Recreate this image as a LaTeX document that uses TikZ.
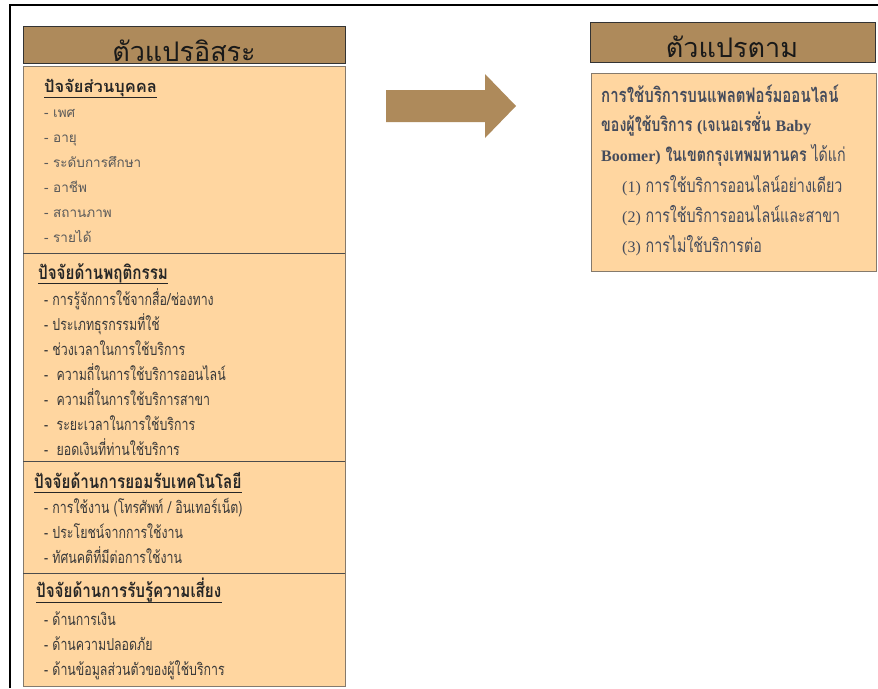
\documentclass[tikz,border=0pt]{standalone}
\usepackage{fontspec}
\setmainfont{Liberation Serif}
\newfontfamily\thaisans[Script=Thai]{Loma}
\newfontfamily\thaicond[Script=Thai,FakeStretch=0.75]{Loma}
\newfontfamily\thaihead[Script=Thai,FakeStretch=0.8]{Loma}
\definecolor{titlebrown}{HTML}{AE8A5B}
\definecolor{peach}{HTML}{FFD6A0}
\definecolor{boxedge}{HTML}{857A6C}
\definecolor{itemgray}{HTML}{5A5A5A}
\definecolor{itemdark}{HTML}{3A3A3A}
\definecolor{slate}{HTML}{454C5C}
\begin{document}
\begin{tikzpicture}[x=1pt,y=-1pt,
  titlebox/.style={draw=black!80,line width=0.8pt,fill=titlebrown,inner sep=0pt,anchor=north west},
  contentbox/.style={draw=boxedge,line width=0.9pt,fill=peach,inner sep=0pt,anchor=north west},
  titletext/.style={font=\thaisans\fontsize{27}{28}\selectfont,text=black!90,inner sep=0pt,anchor=base},
  headsans/.style={font=\thaisans\bfseries\fontsize{16.5}{17}\selectfont,text=black!85,inner sep=0pt,anchor=base west},
  headser/.style={font=\thaihead\bfseries\fontsize{19}{20}\selectfont,text=black!85,inner sep=0pt,anchor=base west},
  itemsans/.style={font=\thaisans\fontsize{13.5}{14}\selectfont,text=itemgray,inner sep=0pt,anchor=base west},
  itemser/.style={font=\thaicond\fontsize{16.5}{17}\selectfont,text=itemdark,inner sep=0pt,anchor=base west},
  rtext/.style={font=\thaicond\fontsize{19}{20}\selectfont,text=slate,inner sep=0pt,anchor=base west},
  latin/.style={},
  uline/.style={line width=1pt,draw=black!85},
  sep/.style={line width=0.8pt,draw=black!70}]
\useasboundingbox (0,0) rectangle (878,688);
\fill[white] (0,0) rectangle (878,688);
% frame
\draw[line width=2pt] (10,688) -- (10,5) -- (878,5);
% left title
\node[titlebox,minimum width=322pt,minimum height=37pt] (ltitle) at (23,26) {};
\node[titletext] (ltitletext) at (184,61) {ตัวแปรอิสระ};
% left content
\node[contentbox,minimum width=322pt,minimum height=620pt] (lbox) at (23,66) {};
\coordinate (s1l) at (23,253); \coordinate (s1r) at (345,253);
\coordinate (s2l) at (23,461); \coordinate (s2r) at (345,461);
\coordinate (s3l) at (23,573); \coordinate (s3r) at (345,573);
\draw[sep] (s1l) -- (s1r);
\draw[sep] (s2l) -- (s2r);
\draw[sep] (s3l) -- (s3r);
% section 1
\node[headsans] (h1) at (44,92) {ปัจจัยส่วนบุคคล};
\draw[uline] ([yshift=-5pt]h1.base west) -- ([yshift=-5pt]h1.base east);
\node[itemsans] (a1) at (44,117) {- เพศ};
\node[itemsans] (a2) at (44,142) {- อายุ};
\node[itemsans] (a3) at (44,167) {- ระดับการศึกษา};
\node[itemsans] (a4) at (44,192) {- อาชีพ};
\node[itemsans] (a5) at (44,217) {- สถานภาพ};
\node[itemsans] (a6) at (44,242) {- รายได้};
% section 2
\node[headser] (h2) at (38,279) {ปัจจัยด้านพฤติกรรม};
\draw[uline] ([yshift=-4pt]h2.base west) -- ([yshift=-4pt]h2.base east);
\node[itemser] (b1) at (44,305) {- การรู้จักการใช้จากสื่อ/ช่องทาง};
\node[itemser] (b2) at (44,330) {- ประเภทธุรกรรมที่ใช้};
\node[itemser] (b3) at (44,355) {- ช่วงเวลาในการใช้บริการ};
\node[itemser] (b4) at (44,380) {-\ \ ความถี่ในการใช้บริการออนไลน์};
\node[itemser] (b5) at (44,405) {-\ \ ความถี่ในการใช้บริการสาขา};
\node[itemser] (b6) at (44,430) {-\ \ ระยะเวลาในการใช้บริการ};
\node[itemser] (b7) at (44,455) {-\ \ ยอดเงินที่ท่านใช้บริการ};
% section 3
\node[headser] (h3) at (34,488) {ปัจจัยด้านการยอมรับเทคโนโลยี};
\draw[uline] ([yshift=-4pt]h3.base west) -- ([yshift=-4pt]h3.base east);
\node[itemser] (c1) at (44,513) {- การใช้งาน (โทรศัพท์ / อินเทอร์เน็ต)};
\node[itemser] (c2) at (44,538) {- ประโยชน์จากการใช้งาน};
\node[itemser] (c3) at (44,563) {- ทัศนคติที่มีต่อการใช้งาน};
% section 4
\node[headser] (h4) at (36,597) {ปัจจัยด้านการรับรู้ความเสี่ยง};
\draw[uline] ([yshift=-5pt]h4.base west) -- ([yshift=-5pt]h4.base east);
\node[itemser] (d1) at (44,625) {- ด้านการเงิน};
\node[itemser] (d2) at (44,650) {- ด้านความปลอดภัย};
\node[itemser] (d3) at (44,675) {- ด้านข้อมูลส่วนตัวของผู้ใช้บริการ};
% arrow
\fill[titlebrown] (386,90) -- (485,90) -- (485,74) -- (516,106) -- (485,138) -- (485,122) -- (386,122) -- cycle;
% right title
\node[titlebox,minimum width=285pt,minimum height=40pt] (rtitle) at (590,22) {};
\node[titletext] (rtitletext) at (732,57) {ตัวแปรตาม};
% right content
\node[contentbox,minimum width=285pt,minimum height=198pt] (rbox) at (591,73) {};
\node[rtext,font=\thaicond\bfseries\fontsize{20}{21}\selectfont] (r1) at (601,102) {การใช้บริการบนแพลตฟอร์มออนไลน์};
\node[rtext] (r2) at (601,131) {{\bfseries ของผู้ใช้บริการ }{\rmfamily\bfseries\fontsize{16}{17}\selectfont (}{\bfseries เจเนอเรชั่น }{\rmfamily\bfseries\fontsize{16}{17}\selectfont Baby}};
\node[rtext] (r3) at (601,161) {{\rmfamily\bfseries\fontsize{16}{17}\selectfont Boomer)} {\bfseries ในเขตกรุงเทพมหานคร} ได้แก่};
\node[rtext] (r4) at (622,192) {{\rmfamily\fontsize{16}{17}\selectfont (1)} การใช้บริการออนไลน์อย่างเดียว};
\node[rtext] (r5) at (622,222) {{\rmfamily\fontsize{16}{17}\selectfont (2)} การใช้บริการออนไลน์และสาขา};
\node[rtext] (r6) at (622,252) {{\rmfamily\fontsize{16}{17}\selectfont (3)} การไม่ใช้บริการต่อ};
\end{tikzpicture}
\end{document}
